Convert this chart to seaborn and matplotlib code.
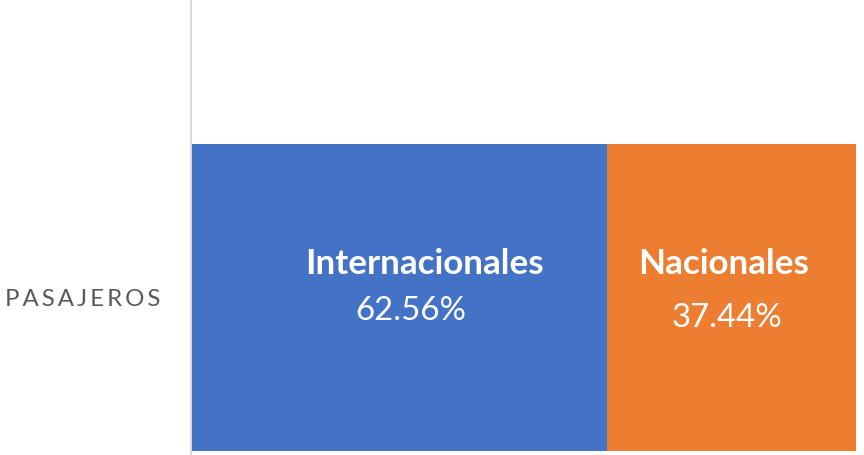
import pandas as pd
import matplotlib.pyplot as plt
import seaborn as sns

# Data
categoria = ['PASAJEROS']
segmentos = ['Internacionales', 'Nacionales']
porcentajes = [62.56, 37.44]
colores = ['#4472C4', '#ED7D31']

sns.set_style('white')
plt.rcParams['font.family'] = ['Lato', 'DejaVu Sans']

df = pd.DataFrame({'cat': categoria,
                   'intl': [porcentajes[0]],
                   'total': [porcentajes[0] + porcentajes[1]]})

# dpi 72 so that points == pixels
fig = plt.figure(figsize=(864 / 72, 455 / 72), dpi=72)
ax = fig.add_axes([190.5 / 864, 0, (856 - 190.5) / 864, 1])

# stacked 100% bar: total (orange) underneath, international (blue) on top
sns.barplot(data=df, x='total', y='cat', orient='h', color=colores[1],
            width=1.0, saturation=1, linewidth=0, ax=ax)
sns.barplot(data=df, x='intl', y='cat', orient='h', color=colores[0],
            width=1.0, saturation=1, linewidth=0, ax=ax)

ax.set_xlim(0, 100)
ax.set_ylim(0.513, -0.969)
ax.set_xlabel('')
ax.set_ylabel('')
ax.set_xticks([])
for s in ['top', 'right', 'bottom']:
    ax.spines[s].set_visible(False)
ax.spines['left'].set_color('#d9d9d9')
ax.spines['left'].set_linewidth(2)
ax.tick_params(axis='y', length=0, pad=30)
ax.set_yticks([0])
ax.set_yticklabels(['\u2009'.join('PASAJEROS')], color='#595959', fontsize=24)

# labels
centros = [porcentajes[0] / 2, porcentajes[0] + porcentajes[1] / 2]
offs_nombre = [(26, 23.5), (-8, 23.5)]
offs_valor = [(12, -22.5), (-4, -29.5)]
for i, nombre in enumerate(segmentos):
    ax.annotate(nombre, xy=(centros[i], 0), xytext=offs_nombre[i],
                textcoords='offset points', ha='center', va='baseline',
                color='white', fontsize=35, fontweight='bold')
    ax.annotate(f'{porcentajes[i]:.2f}%', xy=(centros[i], 0),
                xytext=offs_valor[i], textcoords='offset points',
                ha='center', va='baseline', color='white', fontsize=33)

fig.savefig('out.png', dpi=72)
